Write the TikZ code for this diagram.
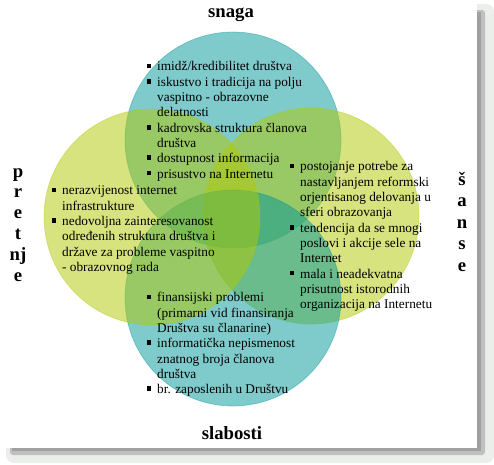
\documentclass[tikz,border=0pt]{standalone}
\usepackage{fontspec}
\setmainfont{Liberation Serif}
\definecolor{tealc}{RGB}{0,151,153}
\definecolor{yelc}{RGB}{177,201,0}
\definecolor{haloc}{RGB}{236,238,236}
\definecolor{midsh}{RGB}{192,192,192}
\definecolor{darksh}{RGB}{160,160,160}
\newcommand\bul{\raisebox{2.6pt}{\rule{4.2pt}{4.8pt}}}
\begin{document}
\begin{tikzpicture}[x=1pt,y=-1pt,
  venn/.style={circle, minimum size=216pt, inner sep=0pt, line width=0.7pt},
  tealv/.style={venn, fill=tealc, fill opacity=0.5, draw=tealc, draw opacity=0.4},
  yelv/.style={venn, fill=yelc, fill opacity=0.5, draw=yelc, draw opacity=0.4},
  blk/.style={anchor=north west, inner sep=0pt, font=\fontsize{13.3}{15.3}\selectfont},
  ttl/.style={anchor=base, inner sep=0pt, font=\bfseries\fontsize{18.7}{21}\selectfont}]
\useasboundingbox (0,0) rectangle (494,464);
% frame with shadow
\fill[haloc, rounded corners=8pt] (6,4) rectangle (494,463);
\fill[midsh, rounded corners=3pt] (10,10) rectangle (485,455);
\fill[darksh] (12,12) rectangle (481,451);
\fill[white] (0,0) rectangle (477,448);
% circles
\node[tealv] (S) at (233,140) {};
\node[yelv] (O) at (311,216) {};
\node[tealv] (W) at (233,298) {};
\node[yelv] (T) at (152,217) {};
% texts
\node[blk] (st) at (147,60) {\begin{tabular}{@{}p{10pt}@{}l@{}}
\bul & imidž/kredibilitet društva\\
\bul & iskustvo i tradicija na polju\\
 & vaspitno - obrazovne\\
 & delatnosti\\
\bul & kadrovska struktura članova\\
 & društva\\
\bul & dostupnost informacija\\
\bul & prisustvo na Internetu
\end{tabular}};
\node[blk] (tt) at (52,184) {\begin{tabular}{@{}p{10pt}@{}l@{}}
\bul & nerazvijenost internet\\
 & infrastrukture\\
\bul & nedovoljna zainteresovanost\\
 & određenih struktura društva i\\
 & države za probleme vaspitno\\
 & - obrazovnog rada
\end{tabular}};
\node[blk] (ot) at (290,160) {\begin{tabular}{@{}p{10pt}@{}l@{}}
\bul & postojanje potrebe za\\
 & nastavljanjem reformski\\
 & orjentisanog delovanja u\\
 & sferi obrazovanja\\
\bul & tendencija da se mnogi\\
 & poslovi i akcije sele na\\
 & Internet\\
\bul & mala i neadekvatna\\
 & prisutnost istorodnih\\
 & organizacija na Internetu
\end{tabular}};
\node[blk] (wt) at (147,291) {\begin{tabular}{@{}p{10pt}@{}l@{}}
\bul & finansijski problemi\\
 & (primarni vid finansiranja\\
 & Društva su članarine)\\
\bul & informatička nepismenost\\
 & znatnog broja članova\\
 & društva\\
\bul & br. zaposlenih u Društvu
\end{tabular}};
% titles
\node[ttl] (snaga) at (231,17.5) {snaga};
\node[ttl] (slabosti) at (232,439) {slabosti};
\foreach \l [count=\i] in {p,r,e,t,nj,e}
  \node[ttl] (p\i) at (18,{177+20.8*(\i-1)}) {\l};
\foreach \l [count=\i] in {š,a,n,s,e}
  \node[ttl] (s\i) at (462,{185+21.5*(\i-1)}) {\l};
\end{tikzpicture}
\end{document}
